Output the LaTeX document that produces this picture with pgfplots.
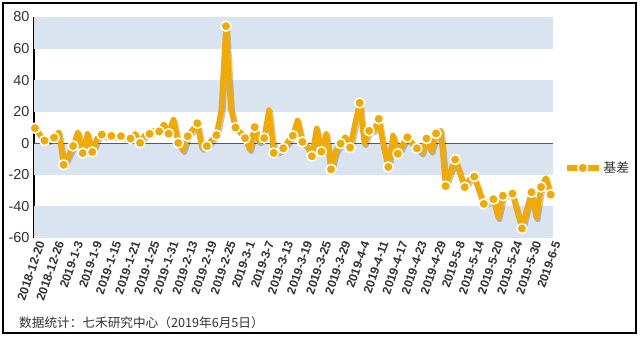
\documentclass[border=0pt]{standalone}
\usepackage{pgfplots}
\pgfplotsset{compat=1.18}
\usepackage{pgfplotstable}
\usepackage{fontspec}
\setmainfont{Liberation Sans}
\newfontfamily\cjk{Noto Sans CJK SC}
\definecolor{band}{HTML}{D9E4F0}
\definecolor{gold}{HTML}{F2A900}
\definecolor{txt}{HTML}{333333}
\pgfplotstableread{
x y
0 9.6
1 5.5
2 1.7
3 2
4 3.6
5 7
6 -13.6
7 -8
8 -1.7
9 7
10 -6.2
11 6
12 -5.5
13 3
14 5.5
15 4.5
16 4.7
17 4.5
18 4.5
19 3.5
20 3
21 6
22 0.3
23 5
24 6
25 8
26 7.5
27 12
28 6.1
29 15
30 0.2
31 -4.5
32 4.5
33 8.5
34 12.7
35 -3
36 -1.8
37 2
38 5.2
39 20
40 74.2
41 22
42 10
43 7
44 3.3
45 -4
46 10.2
47 1
48 3.3
49 21
50 -6.1
51 -5
52 -3.2
53 1
54 4.8
55 14.5
56 0.9
57 -2
58 -8.2
59 9.5
60 -5.3
61 6
62 -16.5
63 -5
64 -0.2
65 4
66 -2.7
67 12
68 25.6
69 0
70 7.9
71 8
72 15.5
73 -2
74 -15
75 5
76 -6.6
77 -1
78 3.8
79 0
80 -3.2
81 -6
82 3
83 -5
84 6.2
85 8
86 -27.1
87 -18
88 -10.3
89 -19
90 -27.8
91 -23
92 -21.1
93 -30
94 -38.4
95 -37
96 -35.4
97 -47
98 -33.2
99 -32.5
100 -31.9
101 -43
102 -54
103 -42
104 -31
105 -47
106 -27.7
107 -22
108 -32.5
}\datatable
\begin{document}
\begin{tikzpicture}
\useasboundingbox (0,0) rectangle (641bp,-337bp);
\fill[white] (0,0) rectangle (641bp,-337bp);
\draw[black, line width=1.2bp] (3bp,-3bp) rectangle (636bp,-333bp);
\begin{axis}[
  at={(34bp,-238bp)}, anchor=south west,
  scale only axis, width=519bp, height=221bp,
  xmin=-0.2, xmax=108.5, ymin=-60, ymax=80,
  clip=false,
  axis x line*=bottom,
  axis y line*=left,
  x axis line style={draw=none},
  y axis line style={black, line width=2bp, -},
  major tick length=0pt,
  ytick={-60,-40,-20,0,20,40,60,80},
  /pgf/number format/assume math mode=true,
  yticklabel style={font=\fontsize{14.5}{15}\selectfont, text=txt, xshift=-1bp},
  xtick={0,4,...,108},
  xticklabels={2018-12-20,2018-12-26,2019-1-3,2019-1-9,2019-1-15,2019-1-21,2019-1-25,2019-1-31,2019-2-13,2019-2-19,2019-2-25,2019-3-1,2019-3-7,2019-3-13,2019-3-19,2019-3-25,2019-3-29,2019-4-4,2019-4-11,2019-4-17,2019-4-23,2019-4-29,2019-5-8,2019-5-14,2019-5-20,2019-5-24,2019-5-30,2019-6-5},
  xticklabel style={rotate=71, anchor=east, font=\bfseries\fontsize{12.2}{13}\selectfont, text=txt, inner sep=1bp, yshift=-7bp},
  legend style={at={(1.015,0.317)}, anchor=west, draw=none, fill=none, font=\cjk\fontsize{13}{14}\selectfont, text=txt},
  legend image code/.code={
    \draw[gold, line width=5.5bp] (0bp,0bp) -- (32bp,0bp);
    \draw[white, fill=gold, line width=1.5bp] (16bp,0bp) circle (5bp);
  },
]
\fill[band] (axis cs:-0.2,60) rectangle (axis cs:108.5,80);
\fill[band] (axis cs:-0.2,20) rectangle (axis cs:108.5,40);
\fill[band] (axis cs:-0.2,-20) rectangle (axis cs:108.5,0);
\fill[band] (axis cs:-0.2,-60) rectangle (axis cs:108.5,-40);
\draw[black!65, line width=1bp] (axis cs:-0.2,0) -- (axis cs:108.5,0);
\addplot[black, opacity=0.22, line width=5.5bp, line join=round, no markers, forget plot, transform canvas={shift={(1.5bp,-2bp)}}] table {\datatable};
\addplot[gold, line width=5.5bp, line join=round, mark=*, mark repeat=2, mark size=5bp, mark options={fill=gold, draw=white, line width=1.6bp}] table {\datatable};
\addlegendentry{基差}
\end{axis}
\node[anchor=west, font=\cjk\fontsize{12.7}{14}\selectfont, text=txt, inner sep=0pt] at (19bp,-323bp) {数据统计：七禾研究中心（2019年6月5日）};
\end{tikzpicture}
\end{document}
